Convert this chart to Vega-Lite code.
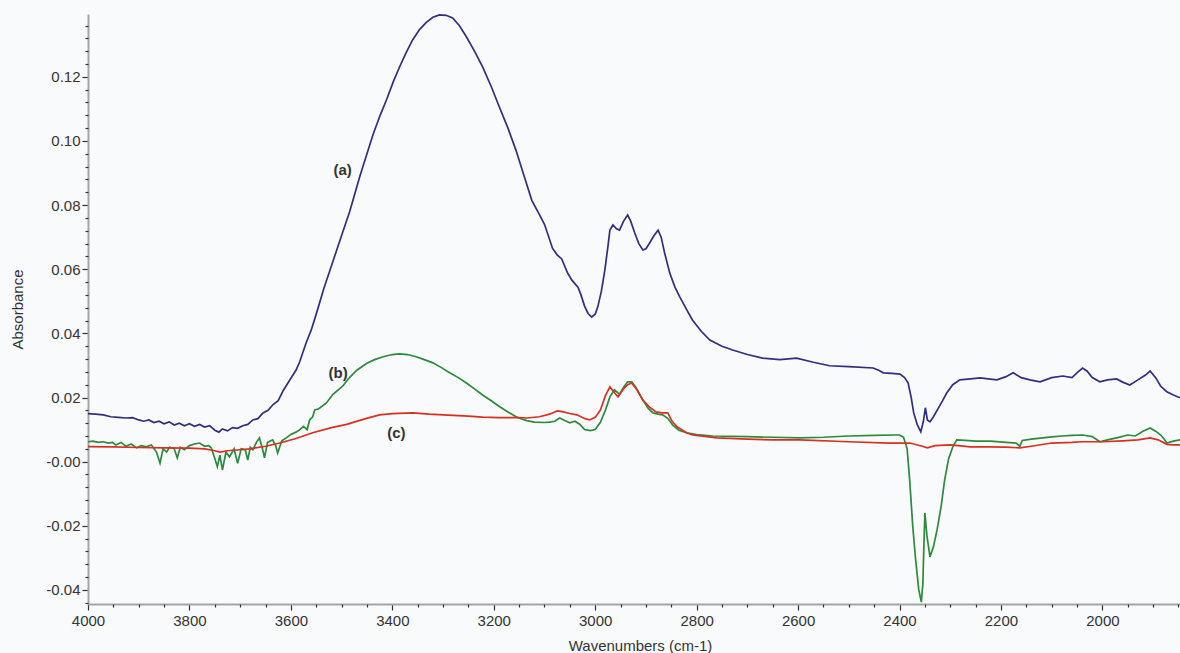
{
"$schema":"https://vega.github.io/schema/vega-lite/v6.json",
"width":1092,"height":590,
"autosize":{"type":"none"},
"padding":{"left":88,"top":14,"right":0,"bottom":49},
"background":"#f9fafc",
"config":{"view":{"stroke":null},"font":"Liberation Sans"},
"datasets":{
"spectra":[
{"s":"a","wn":4000,"abs":0.0150},{"s":"a","wn":3985,"abs":0.0148},{"s":"a","wn":3970,"abs":0.0146},{"s":"a","wn":3955,"abs":0.0140},{"s":"a","wn":3940,"abs":0.0138},{"s":"a","wn":3925,"abs":0.0136},{"s":"a","wn":3912,"abs":0.0137},{"s":"a","wn":3900,"abs":0.0130},{"s":"a","wn":3890,"abs":0.0126},{"s":"a","wn":3880,"abs":0.0130},{"s":"a","wn":3870,"abs":0.0122},{"s":"a","wn":3860,"abs":0.0126},{"s":"a","wn":3850,"abs":0.0118},{"s":"a","wn":3840,"abs":0.0124},{"s":"a","wn":3830,"abs":0.0114},{"s":"a","wn":3820,"abs":0.0120},{"s":"a","wn":3810,"abs":0.0112},{"s":"a","wn":3800,"abs":0.0118},{"s":"a","wn":3790,"abs":0.0110},{"s":"a","wn":3780,"abs":0.0116},{"s":"a","wn":3770,"abs":0.0108},{"s":"a","wn":3760,"abs":0.0112},{"s":"a","wn":3750,"abs":0.0098},{"s":"a","wn":3742,"abs":0.0092},{"s":"a","wn":3735,"abs":0.0102},{"s":"a","wn":3725,"abs":0.0096},{"s":"a","wn":3715,"abs":0.0106},{"s":"a","wn":3705,"abs":0.0104},{"s":"a","wn":3695,"abs":0.0112},{"s":"a","wn":3685,"abs":0.0116},{"s":"a","wn":3675,"abs":0.0130},{"s":"a","wn":3665,"abs":0.0134},{"s":"a","wn":3655,"abs":0.0152},{"s":"a","wn":3645,"abs":0.0160},{"s":"a","wn":3635,"abs":0.0178},{"s":"a","wn":3625,"abs":0.0190},{"s":"a","wn":3615,"abs":0.0222},{"s":"a","wn":3600,"abs":0.0260},{"s":"a","wn":3590,"abs":0.0285},{"s":"a","wn":3583,"abs":0.0310},{"s":"a","wn":3570,"abs":0.0370},{"s":"a","wn":3560,"abs":0.0410},{"s":"a","wn":3550,"abs":0.0460},{"s":"a","wn":3535,"abs":0.0540},{"s":"a","wn":3517,"abs":0.0625},{"s":"a","wn":3500,"abs":0.0705},{"s":"a","wn":3484,"abs":0.0780},{"s":"a","wn":3464,"abs":0.0890},{"s":"a","wn":3450,"abs":0.0960},{"s":"a","wn":3438,"abs":0.1020},{"s":"a","wn":3424,"abs":0.1080},{"s":"a","wn":3411,"abs":0.1130},{"s":"a","wn":3398,"abs":0.1185},{"s":"a","wn":3386,"abs":0.1230},{"s":"a","wn":3373,"abs":0.1275},{"s":"a","wn":3360,"abs":0.1315},{"s":"a","wn":3346,"abs":0.1348},{"s":"a","wn":3333,"abs":0.1370},{"s":"a","wn":3320,"abs":0.1386},{"s":"a","wn":3307,"abs":0.1393},{"s":"a","wn":3294,"abs":0.1392},{"s":"a","wn":3281,"abs":0.1384},{"s":"a","wn":3268,"abs":0.1360},{"s":"a","wn":3254,"abs":0.1325},{"s":"a","wn":3238,"abs":0.1280},{"s":"a","wn":3222,"abs":0.1231},{"s":"a","wn":3205,"abs":0.1170},{"s":"a","wn":3189,"abs":0.1106},{"s":"a","wn":3172,"abs":0.1040},{"s":"a","wn":3156,"abs":0.0970},{"s":"a","wn":3140,"abs":0.0890},{"s":"a","wn":3125,"abs":0.0815},{"s":"a","wn":3110,"abs":0.0770},{"s":"a","wn":3100,"abs":0.0740},{"s":"a","wn":3084,"abs":0.0665},{"s":"a","wn":3075,"abs":0.0645},{"s":"a","wn":3066,"abs":0.0632},{"s":"a","wn":3055,"abs":0.0590},{"s":"a","wn":3046,"abs":0.0566},{"s":"a","wn":3034,"abs":0.0544},{"s":"a","wn":3028,"abs":0.0520},{"s":"a","wn":3021,"abs":0.0485},{"s":"a","wn":3014,"abs":0.0462},{"s":"a","wn":3007,"abs":0.0451},{"s":"a","wn":3000,"abs":0.0460},{"s":"a","wn":2995,"abs":0.0482},{"s":"a","wn":2988,"abs":0.0530},{"s":"a","wn":2981,"abs":0.0597},{"s":"a","wn":2975,"abs":0.0670},{"s":"a","wn":2971,"abs":0.0722},{"s":"a","wn":2965,"abs":0.0738},{"s":"a","wn":2958,"abs":0.0726},{"s":"a","wn":2952,"abs":0.0722},{"s":"a","wn":2944,"abs":0.0750},{"s":"a","wn":2936,"abs":0.0769},{"s":"a","wn":2930,"abs":0.0750},{"s":"a","wn":2922,"abs":0.0713},{"s":"a","wn":2914,"abs":0.0680},{"s":"a","wn":2906,"abs":0.0660},{"s":"a","wn":2900,"abs":0.0664},{"s":"a","wn":2893,"abs":0.0681},{"s":"a","wn":2884,"abs":0.0705},{"s":"a","wn":2876,"abs":0.0722},{"s":"a","wn":2870,"abs":0.0700},{"s":"a","wn":2863,"abs":0.0650},{"s":"a","wn":2853,"abs":0.0588},{"s":"a","wn":2843,"abs":0.0545},{"s":"a","wn":2833,"abs":0.0513},{"s":"a","wn":2820,"abs":0.0475},{"s":"a","wn":2808,"abs":0.0441},{"s":"a","wn":2790,"abs":0.0405},{"s":"a","wn":2774,"abs":0.0379},{"s":"a","wn":2750,"abs":0.0360},{"s":"a","wn":2729,"abs":0.0348},{"s":"a","wn":2700,"abs":0.0334},{"s":"a","wn":2670,"abs":0.0323},{"s":"a","wn":2636,"abs":0.0318},{"s":"a","wn":2603,"abs":0.0323},{"s":"a","wn":2570,"abs":0.0310},{"s":"a","wn":2538,"abs":0.0299},{"s":"a","wn":2500,"abs":0.0296},{"s":"a","wn":2452,"abs":0.0292},{"s":"a","wn":2440,"abs":0.0284},{"s":"a","wn":2432,"abs":0.0277},{"s":"a","wn":2415,"abs":0.0275},{"s":"a","wn":2399,"abs":0.0273},{"s":"a","wn":2390,"abs":0.0262},{"s":"a","wn":2383,"abs":0.0245},{"s":"a","wn":2377,"abs":0.0200},{"s":"a","wn":2372,"abs":0.0152},{"s":"a","wn":2365,"abs":0.0115},{"s":"a","wn":2358,"abs":0.0093},{"s":"a","wn":2353,"abs":0.0125},{"s":"a","wn":2349,"abs":0.0168},{"s":"a","wn":2345,"abs":0.0130},{"s":"a","wn":2340,"abs":0.0124},{"s":"a","wn":2333,"abs":0.0140},{"s":"a","wn":2326,"abs":0.0160},{"s":"a","wn":2315,"abs":0.0190},{"s":"a","wn":2307,"abs":0.0214},{"s":"a","wn":2295,"abs":0.0240},{"s":"a","wn":2281,"abs":0.0255},{"s":"a","wn":2260,"abs":0.0258},{"s":"a","wn":2241,"abs":0.0261},{"s":"a","wn":2225,"abs":0.0258},{"s":"a","wn":2208,"abs":0.0255},{"s":"a","wn":2190,"abs":0.0265},{"s":"a","wn":2176,"abs":0.0277},{"s":"a","wn":2160,"abs":0.0262},{"s":"a","wn":2143,"abs":0.0255},{"s":"a","wn":2123,"abs":0.0249},{"s":"a","wn":2100,"abs":0.0262},{"s":"a","wn":2078,"abs":0.0267},{"s":"a","wn":2060,"abs":0.0262},{"s":"a","wn":2048,"abs":0.0280},{"s":"a","wn":2039,"abs":0.0292},{"s":"a","wn":2030,"abs":0.0282},{"s":"a","wn":2020,"abs":0.0262},{"s":"a","wn":2005,"abs":0.0249},{"s":"a","wn":1990,"abs":0.0255},{"s":"a","wn":1972,"abs":0.0258},{"s":"a","wn":1960,"abs":0.0248},{"s":"a","wn":1946,"abs":0.0239},{"s":"a","wn":1930,"abs":0.0255},{"s":"a","wn":1915,"abs":0.0270},{"s":"a","wn":1906,"abs":0.0283},{"s":"a","wn":1895,"abs":0.0262},{"s":"a","wn":1885,"abs":0.0235},{"s":"a","wn":1873,"abs":0.0218},{"s":"a","wn":1860,"abs":0.0208},{"s":"a","wn":1847,"abs":0.0199},
{"s":"b","wn":4000,"abs":0.0062},{"s":"b","wn":3990,"abs":0.0064},{"s":"b","wn":3980,"abs":0.0060},{"s":"b","wn":3970,"abs":0.0062},{"s":"b","wn":3960,"abs":0.0058},{"s":"b","wn":3952,"abs":0.0060},{"s":"b","wn":3945,"abs":0.0052},{"s":"b","wn":3935,"abs":0.0060},{"s":"b","wn":3925,"abs":0.0048},{"s":"b","wn":3915,"abs":0.0055},{"s":"b","wn":3904,"abs":0.0043},{"s":"b","wn":3895,"abs":0.0050},{"s":"b","wn":3885,"abs":0.0046},{"s":"b","wn":3875,"abs":0.0052},{"s":"b","wn":3865,"abs":0.0030},{"s":"b","wn":3858,"abs":-0.0005},{"s":"b","wn":3852,"abs":0.0040},{"s":"b","wn":3845,"abs":0.0030},{"s":"b","wn":3839,"abs":0.0045},{"s":"b","wn":3830,"abs":0.0040},{"s":"b","wn":3824,"abs":0.0012},{"s":"b","wn":3818,"abs":0.0045},{"s":"b","wn":3810,"abs":0.0037},{"s":"b","wn":3800,"abs":0.0050},{"s":"b","wn":3790,"abs":0.0055},{"s":"b","wn":3780,"abs":0.0058},{"s":"b","wn":3770,"abs":0.0048},{"s":"b","wn":3762,"abs":0.0050},{"s":"b","wn":3757,"abs":0.0043},{"s":"b","wn":3750,"abs":0.0010},{"s":"b","wn":3745,"abs":-0.0016},{"s":"b","wn":3740,"abs":0.0020},{"s":"b","wn":3735,"abs":-0.0026},{"s":"b","wn":3728,"abs":0.0030},{"s":"b","wn":3721,"abs":0.0015},{"s":"b","wn":3712,"abs":0.0040},{"s":"b","wn":3705,"abs":-0.0005},{"s":"b","wn":3698,"abs":0.0040},{"s":"b","wn":3690,"abs":0.0037},{"s":"b","wn":3685,"abs":0.0005},{"s":"b","wn":3680,"abs":0.0045},{"s":"b","wn":3675,"abs":0.0037},{"s":"b","wn":3668,"abs":0.0060},{"s":"b","wn":3662,"abs":0.0074},{"s":"b","wn":3656,"abs":0.0040},{"s":"b","wn":3652,"abs":0.0012},{"s":"b","wn":3646,"abs":0.0060},{"s":"b","wn":3636,"abs":0.0068},{"s":"b","wn":3630,"abs":0.0050},{"s":"b","wn":3626,"abs":0.0027},{"s":"b","wn":3618,"abs":0.0065},{"s":"b","wn":3609,"abs":0.0074},{"s":"b","wn":3600,"abs":0.0085},{"s":"b","wn":3590,"abs":0.0092},{"s":"b","wn":3583,"abs":0.0099},{"s":"b","wn":3575,"abs":0.0110},{"s":"b","wn":3568,"abs":0.0100},{"s":"b","wn":3563,"abs":0.0130},{"s":"b","wn":3557,"abs":0.0140},{"s":"b","wn":3553,"abs":0.0161},{"s":"b","wn":3545,"abs":0.0165},{"s":"b","wn":3530,"abs":0.0183},{"s":"b","wn":3517,"abs":0.0210},{"s":"b","wn":3498,"abs":0.0235},{"s":"b","wn":3484,"abs":0.0263},{"s":"b","wn":3470,"abs":0.0285},{"s":"b","wn":3451,"abs":0.0306},{"s":"b","wn":3435,"abs":0.0318},{"s":"b","wn":3418,"abs":0.0327},{"s":"b","wn":3400,"abs":0.0334},{"s":"b","wn":3386,"abs":0.0336},{"s":"b","wn":3370,"abs":0.0334},{"s":"b","wn":3353,"abs":0.0327},{"s":"b","wn":3337,"abs":0.0318},{"s":"b","wn":3320,"abs":0.0308},{"s":"b","wn":3304,"abs":0.0294},{"s":"b","wn":3287,"abs":0.0277},{"s":"b","wn":3270,"abs":0.0262},{"s":"b","wn":3254,"abs":0.0245},{"s":"b","wn":3238,"abs":0.0227},{"s":"b","wn":3222,"abs":0.0208},{"s":"b","wn":3205,"abs":0.0190},{"s":"b","wn":3189,"abs":0.0172},{"s":"b","wn":3172,"abs":0.0155},{"s":"b","wn":3156,"abs":0.0140},{"s":"b","wn":3145,"abs":0.0133},{"s":"b","wn":3135,"abs":0.0128},{"s":"b","wn":3120,"abs":0.0123},{"s":"b","wn":3100,"abs":0.0122},{"s":"b","wn":3090,"abs":0.0123},{"s":"b","wn":3080,"abs":0.0126},{"s":"b","wn":3070,"abs":0.0136},{"s":"b","wn":3060,"abs":0.0128},{"s":"b","wn":3050,"abs":0.0121},{"s":"b","wn":3040,"abs":0.0126},{"s":"b","wn":3030,"abs":0.0116},{"s":"b","wn":3021,"abs":0.0100},{"s":"b","wn":3010,"abs":0.0097},{"s":"b","wn":3000,"abs":0.0100},{"s":"b","wn":2990,"abs":0.0122},{"s":"b","wn":2980,"abs":0.0160},{"s":"b","wn":2971,"abs":0.0202},{"s":"b","wn":2962,"abs":0.0224},{"s":"b","wn":2952,"abs":0.0210},{"s":"b","wn":2944,"abs":0.0232},{"s":"b","wn":2936,"abs":0.0249},{"s":"b","wn":2928,"abs":0.0249},{"s":"b","wn":2920,"abs":0.0232},{"s":"b","wn":2906,"abs":0.0192},{"s":"b","wn":2895,"abs":0.0165},{"s":"b","wn":2886,"abs":0.0152},{"s":"b","wn":2876,"abs":0.0148},{"s":"b","wn":2867,"abs":0.0146},{"s":"b","wn":2857,"abs":0.0135},{"s":"b","wn":2847,"abs":0.0114},{"s":"b","wn":2835,"abs":0.0098},{"s":"b","wn":2820,"abs":0.0090},{"s":"b","wn":2800,"abs":0.0084},{"s":"b","wn":2768,"abs":0.0080},{"s":"b","wn":2700,"abs":0.0078},{"s":"b","wn":2650,"abs":0.0076},{"s":"b","wn":2597,"abs":0.0074},{"s":"b","wn":2550,"abs":0.0076},{"s":"b","wn":2500,"abs":0.0080},{"s":"b","wn":2450,"abs":0.0082},{"s":"b","wn":2410,"abs":0.0083},{"s":"b","wn":2400,"abs":0.0083},{"s":"b","wn":2392,"abs":0.0076},{"s":"b","wn":2385,"abs":0.0040},{"s":"b","wn":2380,"abs":-0.0057},{"s":"b","wn":2374,"abs":-0.0200},{"s":"b","wn":2368,"abs":-0.0310},{"s":"b","wn":2362,"abs":-0.0400},{"s":"b","wn":2357,"abs":-0.0438},{"s":"b","wn":2354,"abs":-0.0380},{"s":"b","wn":2352,"abs":-0.0266},{"s":"b","wn":2350,"abs":-0.0160},{"s":"b","wn":2346,"abs":-0.0230},{"s":"b","wn":2340,"abs":-0.0297},{"s":"b","wn":2333,"abs":-0.0265},{"s":"b","wn":2326,"abs":-0.0213},{"s":"b","wn":2318,"abs":-0.0140},{"s":"b","wn":2311,"abs":-0.0057},{"s":"b","wn":2303,"abs":0.0010},{"s":"b","wn":2295,"abs":0.0046},{"s":"b","wn":2287,"abs":0.0068},{"s":"b","wn":2270,"abs":0.0066},{"s":"b","wn":2250,"abs":0.0064},{"s":"b","wn":2220,"abs":0.0064},{"s":"b","wn":2190,"abs":0.0060},{"s":"b","wn":2170,"abs":0.0058},{"s":"b","wn":2163,"abs":0.0048},{"s":"b","wn":2158,"abs":0.0066},{"s":"b","wn":2140,"abs":0.0070},{"s":"b","wn":2100,"abs":0.0077},{"s":"b","wn":2080,"abs":0.0080},{"s":"b","wn":2060,"abs":0.0082},{"s":"b","wn":2039,"abs":0.0083},{"s":"b","wn":2020,"abs":0.0078},{"s":"b","wn":2005,"abs":0.0062},{"s":"b","wn":1990,"abs":0.0068},{"s":"b","wn":1970,"abs":0.0075},{"s":"b","wn":1950,"abs":0.0083},{"s":"b","wn":1935,"abs":0.0080},{"s":"b","wn":1920,"abs":0.0095},{"s":"b","wn":1906,"abs":0.0105},{"s":"b","wn":1895,"abs":0.0095},{"s":"b","wn":1885,"abs":0.0083},{"s":"b","wn":1878,"abs":0.0070},{"s":"b","wn":1873,"abs":0.0058},{"s":"b","wn":1860,"abs":0.0064},{"s":"b","wn":1847,"abs":0.0068},
{"s":"c","wn":4000,"abs":0.0047},{"s":"c","wn":3950,"abs":0.0046},{"s":"c","wn":3900,"abs":0.0044},{"s":"c","wn":3850,"abs":0.0043},{"s":"c","wn":3800,"abs":0.0042},{"s":"c","wn":3770,"abs":0.0040},{"s":"c","wn":3750,"abs":0.0034},{"s":"c","wn":3740,"abs":0.0030},{"s":"c","wn":3725,"abs":0.0034},{"s":"c","wn":3700,"abs":0.0037},{"s":"c","wn":3680,"abs":0.0040},{"s":"c","wn":3650,"abs":0.0048},{"s":"c","wn":3622,"abs":0.0058},{"s":"c","wn":3590,"abs":0.0072},{"s":"c","wn":3557,"abs":0.0090},{"s":"c","wn":3520,"abs":0.0106},{"s":"c","wn":3490,"abs":0.0116},{"s":"c","wn":3451,"abs":0.0135},{"s":"c","wn":3425,"abs":0.0146},{"s":"c","wn":3400,"abs":0.0150},{"s":"c","wn":3360,"abs":0.0152},{"s":"c","wn":3327,"abs":0.0148},{"s":"c","wn":3290,"abs":0.0145},{"s":"c","wn":3250,"abs":0.0142},{"s":"c","wn":3222,"abs":0.0139},{"s":"c","wn":3189,"abs":0.0137},{"s":"c","wn":3150,"abs":0.0137},{"s":"c","wn":3135,"abs":0.0136},{"s":"c","wn":3110,"abs":0.0140},{"s":"c","wn":3090,"abs":0.0148},{"s":"c","wn":3075,"abs":0.0158},{"s":"c","wn":3065,"abs":0.0156},{"s":"c","wn":3050,"abs":0.0150},{"s":"c","wn":3036,"abs":0.0146},{"s":"c","wn":3020,"abs":0.0134},{"s":"c","wn":3011,"abs":0.0130},{"s":"c","wn":3000,"abs":0.0138},{"s":"c","wn":2990,"abs":0.0160},{"s":"c","wn":2980,"abs":0.0205},{"s":"c","wn":2971,"abs":0.0233},{"s":"c","wn":2962,"abs":0.0215},{"s":"c","wn":2955,"abs":0.0202},{"s":"c","wn":2945,"abs":0.0225},{"s":"c","wn":2936,"abs":0.0240},{"s":"c","wn":2928,"abs":0.0245},{"s":"c","wn":2918,"abs":0.0225},{"s":"c","wn":2906,"abs":0.0192},{"s":"c","wn":2893,"abs":0.0170},{"s":"c","wn":2880,"abs":0.0155},{"s":"c","wn":2868,"abs":0.0152},{"s":"c","wn":2857,"abs":0.0152},{"s":"c","wn":2848,"abs":0.0125},{"s":"c","wn":2838,"abs":0.0108},{"s":"c","wn":2820,"abs":0.0090},{"s":"c","wn":2808,"abs":0.0083},{"s":"c","wn":2760,"abs":0.0074},{"s":"c","wn":2700,"abs":0.0070},{"s":"c","wn":2650,"abs":0.0068},{"s":"c","wn":2597,"abs":0.0068},{"s":"c","wn":2500,"abs":0.0062},{"s":"c","wn":2420,"abs":0.0058},{"s":"c","wn":2380,"abs":0.0058},{"s":"c","wn":2355,"abs":0.0048},{"s":"c","wn":2345,"abs":0.0043},{"s":"c","wn":2330,"abs":0.0050},{"s":"c","wn":2300,"abs":0.0052},{"s":"c","wn":2260,"abs":0.0046},{"s":"c","wn":2220,"abs":0.0046},{"s":"c","wn":2190,"abs":0.0045},{"s":"c","wn":2163,"abs":0.0043},{"s":"c","wn":2140,"abs":0.0048},{"s":"c","wn":2100,"abs":0.0058},{"s":"c","wn":2060,"abs":0.0060},{"s":"c","wn":2040,"abs":0.0062},{"s":"c","wn":2000,"abs":0.0062},{"s":"c","wn":1960,"abs":0.0065},{"s":"c","wn":1930,"abs":0.0068},{"s":"c","wn":1906,"abs":0.0074},{"s":"c","wn":1890,"abs":0.0068},{"s":"c","wn":1873,"abs":0.0054},{"s":"c","wn":1860,"abs":0.0052},{"s":"c","wn":1847,"abs":0.0052}
],
"labels":[
{"t":"(a)","wn":3498,"abs":0.0910},
{"t":"(b)","wn":3507,"abs":0.0276},
{"t":"(c)","wn":3392,"abs":0.0089}
]
},
"resolve":{"axis":{"x":"independent","y":"independent"}},
"layer":[
{"data":{"name":"spectra"},
"mark":{"type":"line","strokeWidth":1.7,"clip":true},
"encoding":{
"x":{"field":"wn","type":"quantitative","scale":{"domain":[1847,4000],"reverse":true,"nice":false,"zero":false},
"axis":{"orient":"bottom","values":[2000,2200,2400,2600,2800,3000,3200,3400,3600,3800,4000],"format":"d",
"tickSize":6,"grid":false,"labelOverlap":false,"labelFlush":false,
"domainColor":"#a4a4a4","domainWidth":2,"tickColor":"#333333","tickWidth":1.2,
"labelFontSize":15,"labelColor":"#333333","labelPadding":3,
"title":"Wavenumbers (cm-1)","titleFontSize":15,"titleFontWeight":"normal","titleColor":"#333333","titlePadding":10,"titleX":552}},
"y":{"field":"abs","type":"quantitative","scale":{"domain":[-0.0444,0.1396],"nice":false,"zero":false},
"axis":{"orient":"left","values":[-0.04,-0.02,0,0.02,0.04,0.06,0.08,0.1,0.12],
"labelExpr":"datum.value == 0 ? '-0.00' : replace(format(datum.value, '.2f'), '\u2212', '-')",
"tickSize":6,"grid":false,"labelOverlap":false,"labelFlush":false,
"domainColor":"#a4a4a4","domainWidth":2,"tickColor":"#333333","tickWidth":1.2,
"labelFontSize":15,"labelColor":"#333333","labelPadding":2,
"title":"Absorbance","titleFontSize":15,"titleFontWeight":"normal","titleColor":"#333333","titlePadding":20}},
"color":{"field":"s","type":"nominal","scale":{"domain":["a","b","c"],"range":["#2f2f7e","#2b8a3c","#d8301f"]},"legend":null}
}},
{"data":{"name":"labels"},
"mark":{"type":"text","fontSize":15,"fontWeight":"bold","color":"#333333","align":"center","baseline":"middle"},
"encoding":{
"x":{"field":"wn","type":"quantitative",
"axis":{"orient":"bottom","values":[1850,1900,1950,2050,2100,2150,2250,2300,2350,2450,2500,2550,2650,2700,2750,2850,2900,2950,3050,3100,3150,3250,3300,3350,3450,3500,3550,3650,3700,3750,3850,3900,3950],
"labels":false,"domain":false,"grid":false,"title":null,"tickSize":3,"tickColor":"#333333","tickWidth":1.2}},
"y":{"field":"abs","type":"quantitative",
"axis":{"orient":"left","values":[-0.044,-0.036,-0.032,-0.028,-0.024,-0.016,-0.012,-0.008,-0.004,0.004,0.008,0.012,0.016,0.024,0.028,0.032,0.036,0.044,0.048,0.052,0.056,0.064,0.068,0.072,0.076,0.084,0.088,0.092,0.096,0.104,0.108,0.112,0.116,0.124,0.128,0.132,0.136],
"labels":false,"domain":false,"grid":false,"title":null,"tickSize":3,"tickColor":"#333333","tickWidth":1.2}},
"text":{"field":"t"}
}}
]
}
